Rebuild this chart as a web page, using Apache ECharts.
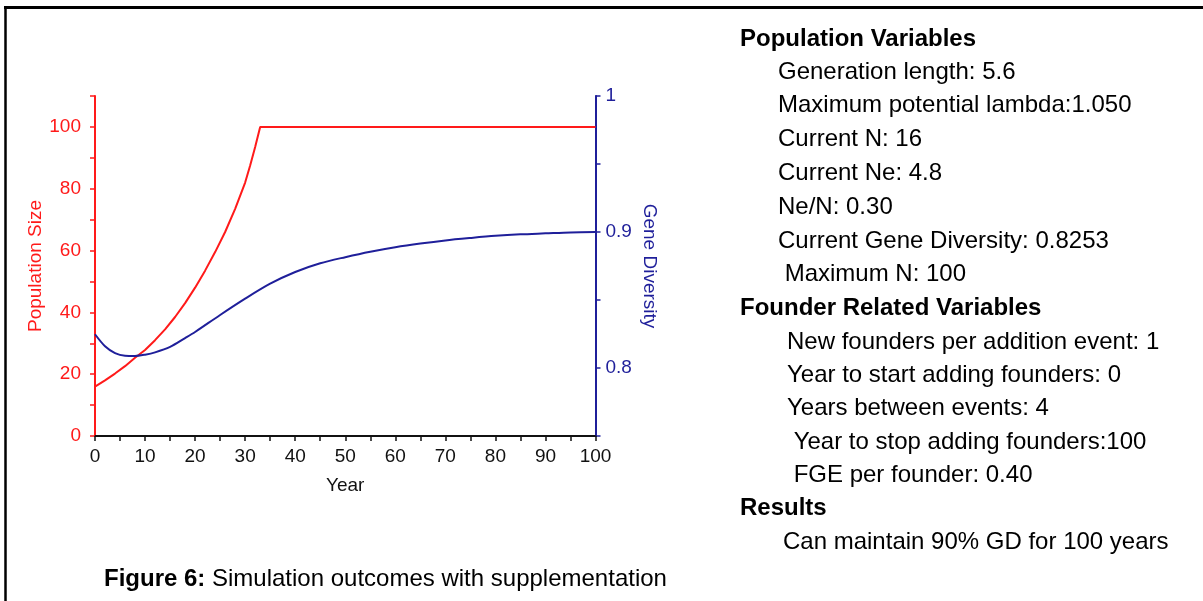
<!DOCTYPE html>
<html>
<head>
<meta charset="utf-8">
<script src="https://cdn.jsdelivr.net/npm/echarts@6/dist/echarts.min.js"></script>
<style>
  html, body { margin: 0; padding: 0; background: #fff; }
  #main { width: 1203px; height: 601px; }
</style>
</head>
<body>
<div id="main"></div>
<script>
// population size (red)
const popYears = [0, 2, 4, 6, 8, 10, 12, 14, 16, 18, 20, 22, 24, 26, 28, 30, 31, 32, 33, 100]
const popSize = [16, 18, 20.2, 22.6, 25.3, 27.8, 31, 34.5, 38.5, 43, 48, 53.5, 59.5, 66, 73.5, 82, 87.5, 93.5, 100, 100]

// gene diversity (blue)
const gdYears = [0, 2, 4, 6, 8, 10, 12, 15, 18, 20, 25, 30, 35, 40, 45, 50, 55, 60, 65, 70, 75, 80, 85, 90, 95, 100]
const geneDiversity = [0.8248, 0.816, 0.811, 0.809, 0.8088, 0.8098, 0.8115, 0.8155, 0.822, 0.8265, 0.839, 0.851, 0.862, 0.8706, 0.877, 0.8815, 0.8855, 0.8888, 0.8915, 0.8938, 0.8956, 0.8972, 0.8983, 0.899, 0.8997, 0.900]

// text block on the right
const popVarLines = [
  'Generation length: 5.6',
  'Maximum potential lambda:1.050',
  'Current N: 16',
  'Current Ne: 4.8',
  'Ne/N: 0.30',
  'Current Gene Diversity: 0.8253',
  ' Maximum N: 100'
]
const founderLines = [
  'New founders per addition event: 1',
  'Year to start adding founders: 0',
  'Years between events: 4',
  ' Year to stop adding founders:100',
  ' FGE per founder: 0.40'
]
const resultLines = ['Can maintain 90% GD for 100 years']

const RED = '#ff1a1a'
const BLUE = '#1f1f9a'
const sans = "'Liberation Sans', Arial, sans-serif"
const AXIS_FS = 19

const chart = echarts.init(document.getElementById('main'))

function textEl(x, y, text, bold) {
  return {
    type: 'text',
    x: x,
    y: y,
    style: {
      text: text,
      font: (bold ? 'bold ' : '') + '24px ' + sans,
      fill: '#000',
      textVerticalAlign: 'middle'
    }
  }
}

const graphics = [
  { type: 'line', shape: { x1: 4, y1: 7.5, x2: 1203, y2: 7.5 }, style: { stroke: '#000', lineWidth: 3 } },
  { type: 'line', shape: { x1: 5.5, y1: 6, x2: 5.5, y2: 601 }, style: { stroke: '#000', lineWidth: 2.5 } },
  textEl(740, 39, 'Population Variables', true)
]
popVarLines.forEach(function(t, i) {
  graphics.push(textEl(778, 72 + i * 33.8, t, false))
})
graphics.push(textEl(740, 308.5, 'Founder Related Variables', true))
founderLines.forEach(function(t, i) {
  graphics.push(textEl(787, 342 + i * 33.4, t, false))
})
graphics.push(textEl(740, 508.5, 'Results', true))
graphics.push(textEl(783, 542, resultLines[0], false))
graphics.push({
  type: 'text',
  x: 104,
  y: 579,
  style: {
    text: '{b|Figure 6:} Simulation outcomes with supplementation',
    font: '24px ' + sans,
    fill: '#000',
    textVerticalAlign: 'middle',
    rich: {
      b: { fontWeight: 'bold', fontSize: 24, fontFamily: sans }
    }
  }
})

chart.setOption({
  animation: false,
  grid: { left: 95, right: 607.5, top: 96, bottom: 165 },
  xAxis: {
    type: 'value',
    min: 0,
    max: 100,
    interval: 5,
    name: 'Year',
    nameLocation: 'middle',
    nameGap: 40,
    nameTextStyle: { color: '#111', fontSize: AXIS_FS, fontFamily: sans },
    axisLine: { onZero: false, lineStyle: { color: '#111', width: 2 } },
    axisTick: { length: 5, lineStyle: { color: '#111', width: 1.5 } },
    axisLabel: {
      color: '#111', fontSize: AXIS_FS, fontFamily: sans, margin: 11,
      formatter: function(v) { return v % 10 === 0 ? v : '' }
    },
    splitLine: { show: false }
  },
  yAxis: [
    {
      type: 'value',
      min: 0,
      max: 110,
      interval: 10,
      name: 'Population Size',
      nameLocation: 'middle',
      nameGap: 50,
      nameTextStyle: { color: RED, fontSize: AXIS_FS, fontFamily: sans },
      axisLine: { show: true, lineStyle: { color: RED, width: 2 } },
      axisTick: { length: 5, lineStyle: { color: RED, width: 1.5 } },
      axisLabel: {
        color: RED, fontSize: AXIS_FS, fontFamily: sans, margin: 14,
        formatter: function(v) { return v % 20 === 0 ? v : '' }
      },
      splitLine: { show: false }
    },
    {
      type: 'value',
      position: 'right',
      min: 0.75,
      max: 1,
      interval: 0.05,
      name: 'Gene Diversity',
      nameLocation: 'middle',
      nameRotate: -90,
      nameGap: 44,
      nameTextStyle: { color: BLUE, fontSize: AXIS_FS, fontFamily: sans },
      axisLine: { show: true, lineStyle: { color: BLUE, width: 2 } },
      axisTick: { length: 5, lineStyle: { color: BLUE, width: 1.5 } },
      axisLabel: {
        color: BLUE, fontSize: AXIS_FS, fontFamily: sans, margin: 10,
        formatter: function(v) {
          const r = Math.round(v * 100)
          return r % 10 === 0 && r > 75 ? String(r / 100) : ''
        }
      },
      splitLine: { show: false }
    }
  ],
  series: [
    {
      name: 'Population Size',
      type: 'line',
      yAxisIndex: 0,
      showSymbol: false,
      smooth: false,
      lineStyle: { color: RED, width: 2 },
      data: popYears.map(function(x, i) { return [x, popSize[i]] })
    },
    {
      name: 'Gene Diversity',
      type: 'line',
      yAxisIndex: 1,
      showSymbol: false,
      smooth: 0.3,
      lineStyle: { color: BLUE, width: 2 },
      data: gdYears.map(function(x, i) { return [x, geneDiversity[i]] })
    }
  ],
  graphic: graphics
})
</script>
</body>
</html>
